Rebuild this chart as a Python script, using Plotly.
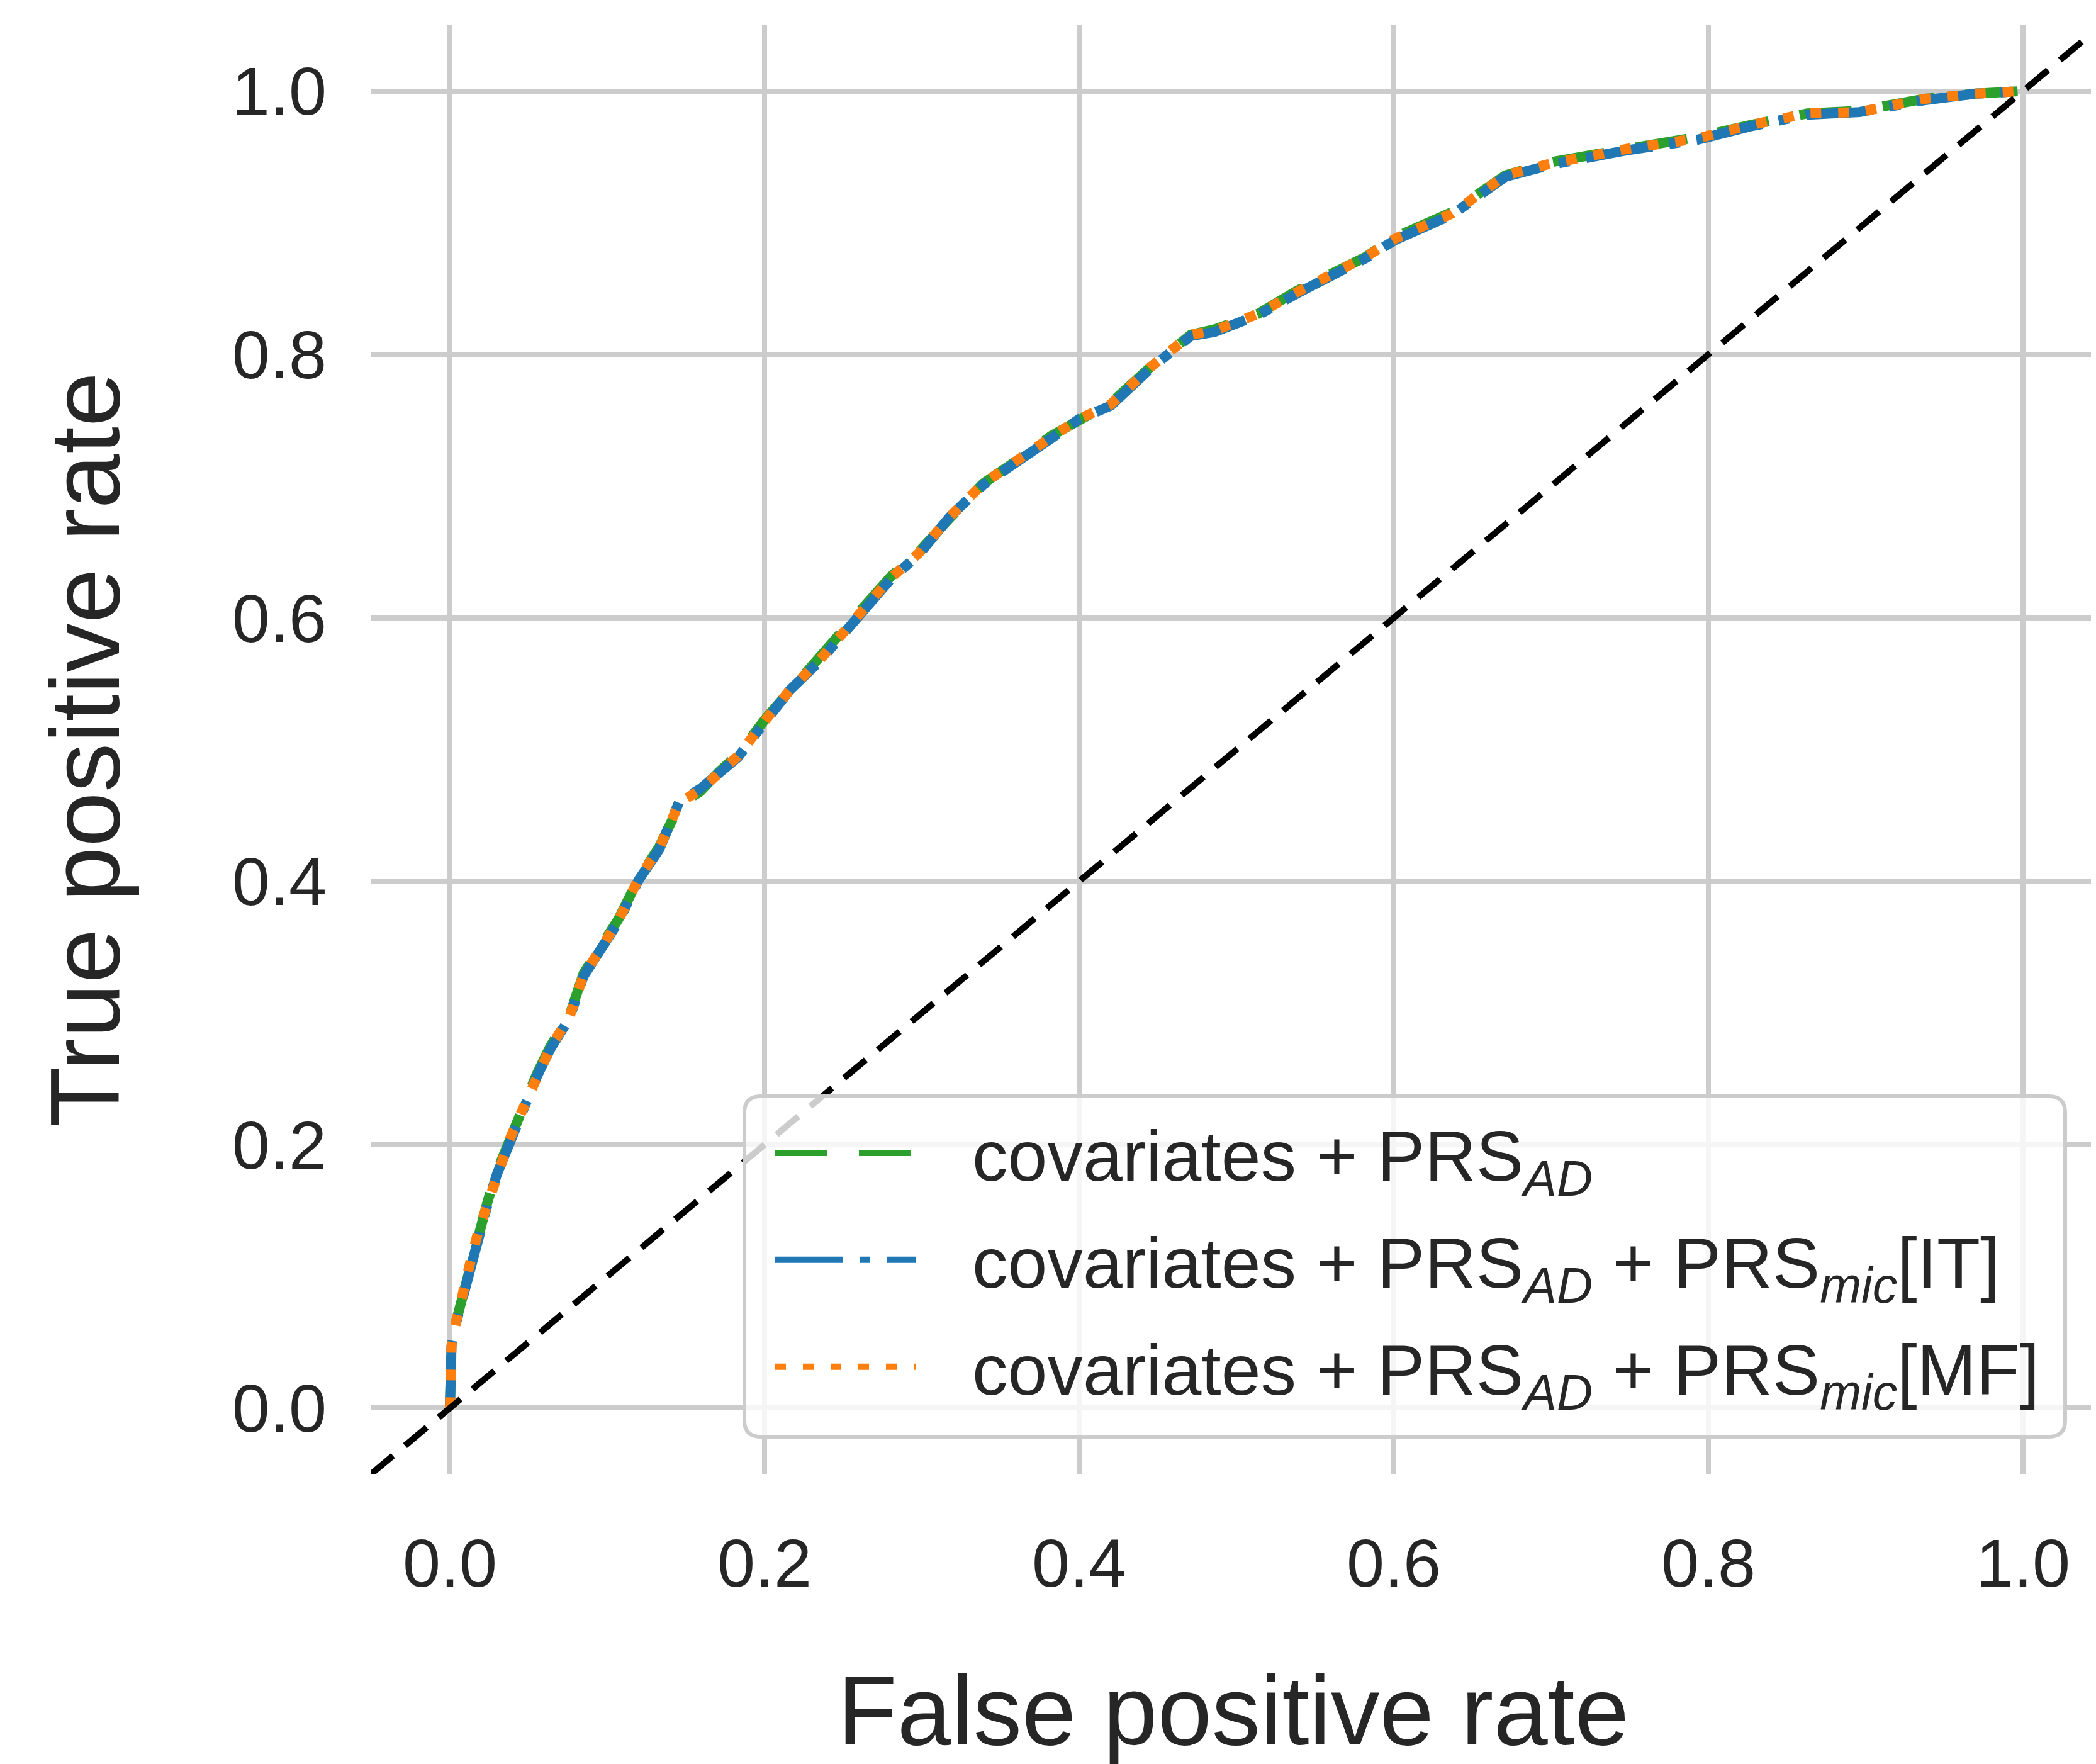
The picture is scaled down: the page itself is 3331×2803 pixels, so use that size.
import plotly.graph_objects as go

# ---- data ----
fpr_ad = [0.0, 0.001, 0.004, 0.007, 0.013, 0.018, 0.024, 0.030, 0.038, 0.046, 0.055, 0.064,
          0.076, 0.085, 0.094, 0.107, 0.120, 0.133, 0.146, 0.159, 0.171, 0.183, 0.201, 0.216,
          0.235, 0.257, 0.280, 0.298, 0.318, 0.339, 0.360, 0.382, 0.400, 0.420, 0.445, 0.471,
          0.486, 0.514, 0.538, 0.582, 0.601, 0.637, 0.671, 0.700, 0.748, 0.793, 0.826, 0.863,
          0.896, 0.937, 0.970, 1.0]
tpr_ad = [0.0, 0.046, 0.066, 0.080, 0.112, 0.135, 0.157, 0.180, 0.205, 0.227, 0.253, 0.275,
          0.298, 0.330, 0.346, 0.371, 0.402, 0.426, 0.458, 0.468, 0.483, 0.496, 0.524, 0.544,
          0.568, 0.600, 0.631, 0.650, 0.676, 0.702, 0.719, 0.738, 0.750, 0.763, 0.790, 0.815,
          0.819, 0.831, 0.848, 0.874, 0.889, 0.908, 0.936, 0.946, 0.956, 0.965, 0.974, 0.983,
          0.985, 0.994, 0.998, 1.0]

fpr_it = [0.0, 0.001, 0.004, 0.007, 0.013, 0.018, 0.024, 0.030, 0.038, 0.046, 0.055, 0.064,
          0.076, 0.085, 0.094, 0.107, 0.120, 0.133, 0.146, 0.159, 0.171, 0.183, 0.201, 0.216,
          0.235, 0.257, 0.280, 0.298, 0.318, 0.339, 0.360, 0.382, 0.400, 0.420, 0.445, 0.471,
          0.486, 0.514, 0.538, 0.582, 0.601, 0.637, 0.671, 0.700, 0.748, 0.793, 0.826, 0.863,
          0.896, 0.937, 0.970, 1.0]
tpr_it = [0.0, 0.047, 0.065, 0.079, 0.110, 0.133, 0.155, 0.178, 0.203, 0.226, 0.251, 0.273,
          0.296, 0.328, 0.344, 0.369, 0.401, 0.424, 0.461, 0.470, 0.482, 0.494, 0.522, 0.545,
          0.567, 0.598, 0.629, 0.648, 0.677, 0.701, 0.717, 0.736, 0.751, 0.761, 0.789, 0.814,
          0.817, 0.830, 0.846, 0.873, 0.887, 0.906, 0.935, 0.944, 0.955, 0.963, 0.973, 0.982,
          0.984, 0.993, 0.998, 1.0]

fpr_mf = [0.0, 0.001, 0.004, 0.007, 0.013, 0.018, 0.024, 0.030, 0.038, 0.046, 0.055, 0.064,
          0.076, 0.085, 0.094, 0.107, 0.120, 0.133, 0.146, 0.159, 0.171, 0.183, 0.201, 0.216,
          0.235, 0.257, 0.280, 0.298, 0.318, 0.339, 0.360, 0.382, 0.400, 0.420, 0.445, 0.471,
          0.486, 0.514, 0.538, 0.582, 0.601, 0.637, 0.671, 0.700, 0.748, 0.793, 0.826, 0.863,
          0.896, 0.937, 0.970, 1.0]
tpr_mf = [0.0, 0.047, 0.066, 0.079, 0.111, 0.134, 0.156, 0.179, 0.204, 0.226, 0.252, 0.274,
          0.297, 0.329, 0.345, 0.370, 0.402, 0.425, 0.460, 0.469, 0.482, 0.495, 0.523, 0.545,
          0.568, 0.599, 0.630, 0.649, 0.677, 0.702, 0.718, 0.737, 0.751, 0.762, 0.790, 0.815,
          0.818, 0.831, 0.847, 0.874, 0.888, 0.907, 0.936, 0.945, 0.956, 0.964, 0.974, 0.983,
          0.984, 0.994, 0.998, 1.0]

chance_x = [-0.05, 1.05]
chance_y = [-0.05, 1.05]

tick_vals = [0.0, 0.2, 0.4, 0.6, 0.8, 1.0]
tick_text = ["0.0", "0.2", "0.4", "0.6", "0.8", "1.0"]

labels = [
    "covariates + PRS<sub><i>AD</i></sub>",
    "covariates + PRS<sub><i>AD</i></sub> + PRS<sub><i>mic</i></sub>[IT]",
    "covariates + PRS<sub><i>AD</i></sub> + PRS<sub><i>mic</i></sub>[MF]",
]

# ---- geometry (screen pixels; the page body adds an 8px offset) ----
W, H = 3331, 2803
OFF = 8
S_LEFT, S_RIGHT, S_TOP, S_BOTTOM = 590, 3330, 40, 2342
ML = S_LEFT - OFF
MR = W - (S_RIGHT - OFF)
MT = S_TOP - OFF
MB = H - (S_BOTTOM - OFF)
PW, PH = S_RIGHT - S_LEFT, S_BOTTOM - S_TOP

FONT = "Liberation Sans, Arial, Helvetica, sans-serif"
TXT = "#262626"
GRID = "#cccccc"
PAD = "<span style='font-size:102px'>\u00a0\u00a0\u00a0</span>"


def px(xs):
    return (xs - S_LEFT) / PW


def py(ys):
    return (S_BOTTOM - ys) / PH


fig = go.Figure()
fig.add_trace(go.Scatter(x=fpr_ad, y=tpr_ad, mode="lines", name=PAD + labels[0],
                         legendgroup="a",
                         line=dict(color="#2ca02c", width=16, dash="83px,50px")))
fig.add_trace(go.Scatter(x=fpr_it, y=tpr_it, mode="lines", name=PAD + labels[1],
                         legendgroup="b",
                         line=dict(color="#1f77b4", width=16, dash="107px,27px,17px,27px")))
fig.add_trace(go.Scatter(x=fpr_mf, y=tpr_mf, mode="lines", name=PAD + labels[2],
                         legendgroup="c",
                         line=dict(color="#ff7f0e", width=16, dash="17px,27px")))
fig.add_trace(go.Scatter(x=chance_x, y=chance_y, mode="lines", showlegend=False,
                         line=dict(color="black", width=10, dash="45px,25px")))

# legend box (rounded, semi-transparent) drawn as a shape in paper coords
bx0, bx1, by0, by1 = 1183, 3282, 1742, 2283
r = 26
rx, ry = r / PW, r / PH
X0, X1, Y0, Y1 = px(bx0), px(bx1), py(by1), py(by0)
path = (f"M{X0+rx},{Y0} L{X1-rx},{Y0} Q{X1},{Y0} {X1},{Y0+ry} "
        f"L{X1},{Y1-ry} Q{X1},{Y1} {X1-rx},{Y1} L{X0+rx},{Y1} Q{X0},{Y1} {X0},{Y1-ry} "
        f"L{X0},{Y0+ry} Q{X0},{Y0} {X0+rx},{Y0} Z")
fig.add_shape(type="path", path=path, xref="paper", yref="paper", layer="above",
              fillcolor="rgba(255,255,255,0.8)", line=dict(color=GRID, width=6))

axis_common = dict(
    showgrid=True, gridcolor=GRID, gridwidth=8, zeroline=False, showline=False,
    ticks="", tickvals=tick_vals, ticktext=tick_text,
    tickfont=dict(family=FONT, size=108, color=TXT),
    ticklabelstandoff=70,
)

fig.update_layout(
    width=W, height=H,
    margin=dict(l=ML, r=MR, t=MT, b=MB, pad=0),
    paper_bgcolor="white", plot_bgcolor="white",
    font=dict(family=FONT, color=TXT),
    xaxis=dict(range=[-0.05, 1.046],
               title=dict(text="False positive rate", font=dict(family=FONT, size=155, color=TXT),
                          standoff=120),
               **axis_common),
    yaxis=dict(range=[-0.05, 1.05],
               title=dict(text="True positive rate", font=dict(family=FONT, size=156, color=TXT),
                          standoff=126),
               **axis_common),
    legend=dict(x=px(1227), xanchor="left", y=py(1752), yanchor="top",
                bgcolor="rgba(0,0,0,0)", borderwidth=0,
                font=dict(family=FONT, size=113, color=TXT),
                itemwidth=223, tracegroupgap=20,
                traceorder="grouped"),
    showlegend=True,
)

fig.write_html("out.html")
